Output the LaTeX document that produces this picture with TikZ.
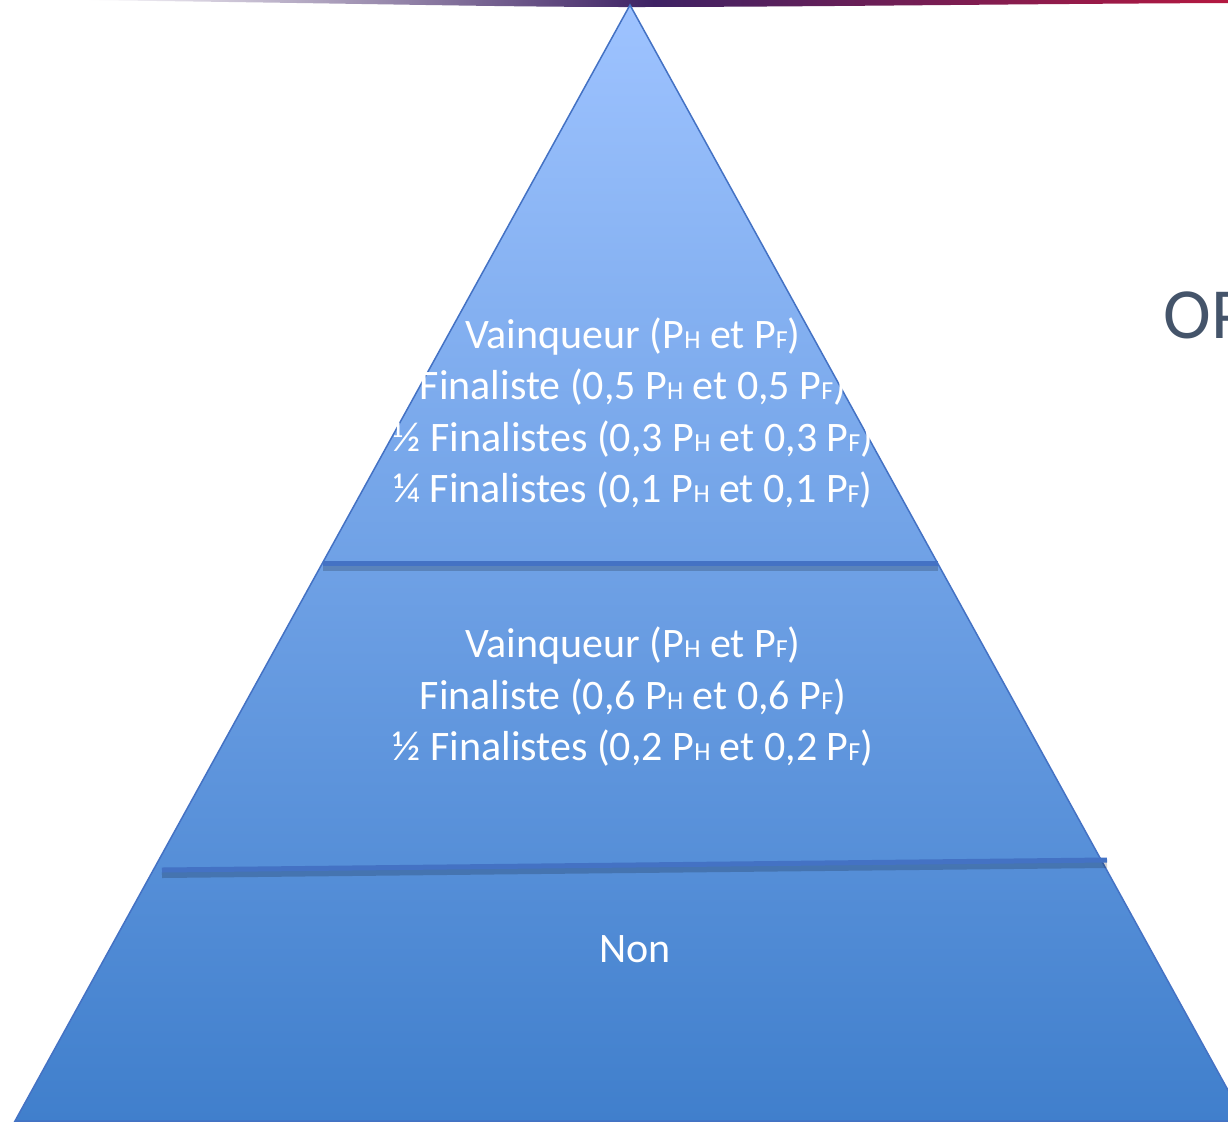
\documentclass[tikz,border=0pt]{standalone}
\usepackage{fontspec}
\setmainfont{Carlito}
\usetikzlibrary{calc}

\definecolor{pyrtop}{RGB}{158,195,255}
\definecolor{pyrbot}{RGB}{64,127,204}
\definecolor{pyrline}{RGB}{68,114,196}
\definecolor{slate}{RGB}{68,84,106}
\definecolor{bandblue}{RGB}{62,34,100}
\definecolor{bandred}{RGB}{180,24,64}
\newcommand{\pidx}[1]{{\fontsize{13pt}{13pt}\selectfont #1}}

\begin{document}
\begin{tikzpicture}[x=0.5pt, y=-0.5pt,
every node/.style={%anchor=base,
    inner sep=0pt, text=white, align=center,
    font=\fontsize{21pt}{25.75pt}\selectfont
    },
sepline/.style={line width=2.5pt, pyrline},
sepshadow/.style={line width=3pt, black, opacity=0.18}
]
\useasboundingbox (0,0) rectangle (1228,1121);

% band along the top
\shade[left color=white, right color=bandred, middle color=bandblue]
    (80,0) .. controls (400,4) and (500,7) .. (630,7)
    .. controls (800,7) and (1000,4) .. (1228,3) -- (1228,0) -- cycle;

\coordinate (apex) at (630,5);
\coordinate (bl) at (15,1121);
\coordinate (br) at (1245,1121);
\shade[top color=pyrtop, bottom color=pyrbot, draw=pyrline, line width=0.75pt]
    (apex) -- (bl) -- (br) -- cycle;

\coordinate (sepAl) at (323,563);
\coordinate (sepAr) at (938,563);
\coordinate (sepBl) at (162,870);
\coordinate (sepBr) at (1107,860);
\foreach \a/\b in {sepAl/sepAr, sepBl/sepBr}{
    \draw [sepshadow] ($(\a)+(0,5)$) -- ($(\b)+(0,5)$);
    \draw [sepline] (\a) -- (\b);
}

\node (tierA) at (633,413) {Vainqueur (P\pidx{H} et P\pidx{F})\\
    Finaliste (0,5 P\pidx{H} et 0,5 P\pidx{F})\\
    ½ Finalistes (0,3 P\pidx{H} et 0,3 P\pidx{F})\\
    ¼ Finalistes (0,1 P\pidx{H} et 0,1 P\pidx{F})};
\node (tierB) at (633,697) {Vainqueur (P\pidx{H} et P\pidx{F})\\
    Finaliste (0,6 P\pidx{H} et 0,6 P\pidx{F})\\
    ½ Finalistes (0,2 P\pidx{H} et 0,2 P\pidx{F})};
\node [anchor=base] (tierC) at (635,962) {Non};

\node [anchor=base west, text=slate, font=\fontsize{36pt}{40pt}\selectfont] (titre) at (1163,338) {OP};

\end{tikzpicture}
\end{document}
